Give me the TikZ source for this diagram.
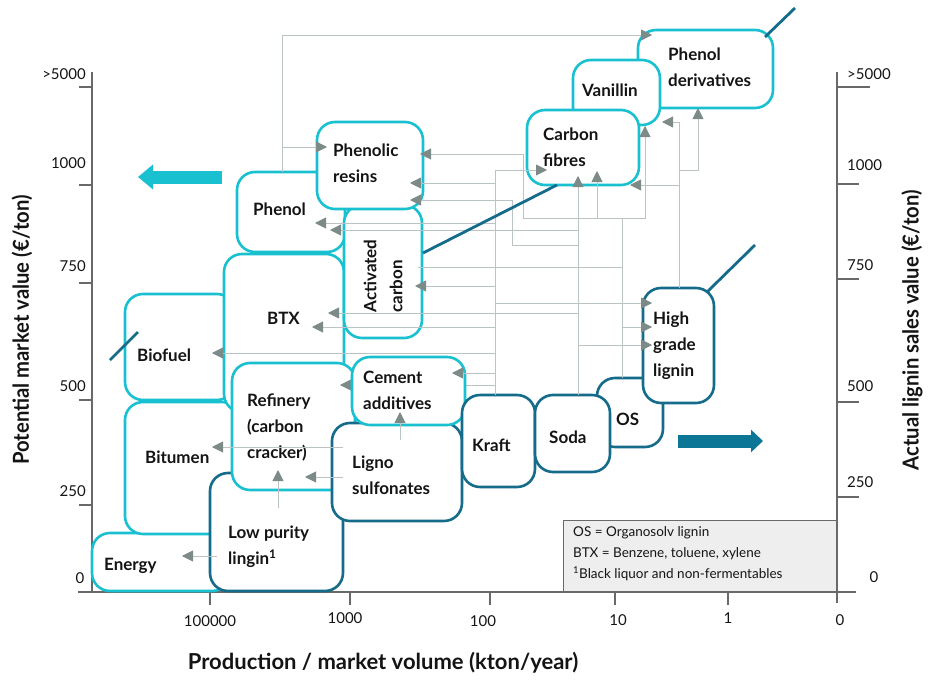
\documentclass[tikz,border=0pt]{standalone}
\usepackage{fontspec}
\setmainfont{Lato}
\newfontfamily\ttlfont{Lato}[FakeStretch=0.92]
\usetikzlibrary{arrows.meta}
\definecolor{cyanC}{RGB}{24,192,208}
\definecolor{darkC}{RGB}{20,108,138}
\definecolor{arrowD}{RGB}{12,118,150}
\definecolor{lineG}{RGB}{188,195,195}
\definecolor{tipG}{RGB}{124,138,136}
\definecolor{axisG}{RGB}{105,105,105}
\definecolor{legF}{RGB}{238,238,238}
\definecolor{txt}{RGB}{20,20,20}
\newcommand{\mybox}[6]{\node[#1,minimum width=#5pt,minimum height=#6pt] (#2) at (#3,#4) {};}
\begin{document}
\begin{tikzpicture}[x=1pt,y=-1pt,
  cbox/.style={draw=cyanC, line width=2.6pt, fill=white, rounded corners=18pt, inner sep=0pt, outer sep=0pt},
  dbox/.style={cbox, draw=darkC},
  lbl/.style={font=\bfseries\fontsize{17}{26}\selectfont, text=txt, align=left, anchor=west, inner sep=0pt},
  conn/.style={draw=lineG, line width=0.9pt},
  arr/.style={conn, -{Triangle[length=11pt,width=11pt,color=tipG]}},
  slash/.style={draw=darkC, line width=2.8pt},
  tick/.style={draw=axisG, line width=1.1pt},
  num/.style={font=\fontsize{15}{17}\selectfont, text=txt, inner sep=0pt},
  ttl/.style={font=\ttlfont\bfseries\fontsize{22}{25}\selectfont, text=txt, inner sep=0pt}]
\useasboundingbox (0,0) rectangle (932,680);
% legend
\node[draw=axisG, fill=legF, line width=0.8pt, minimum width=274pt, minimum height=71pt, inner sep=0pt, anchor=north west] (legend) at (563,520) {};
\node[font=\fontsize{13.5}{21}\selectfont, text=txt, align=left, anchor=west, inner sep=0pt] (legtxt) at (573,554)
  {OS = Organosolv lignin\\BTX = Benzene, toluene, xylene\\\textsuperscript{1}Black liquor and non-fermentables};
% axes
\draw[tick] (92,72) -- (92,592);
\draw[tick] (78,592) -- (856,592);
\draw[tick] (837,72) -- (837,603);
\foreach \y in {87,185,283,400,505} \draw[tick] (79,\y) -- (92,\y);
\draw[tick] (837,87) -- (870,87);
\foreach \y in {184,279,402,497} \draw[tick] (837,\y) -- (859,\y);
\foreach \x in {210,350,490,615,728} \draw[tick] (\x,592) -- (\x,605);
% axis numbers
\node[num, anchor=east] (l5000) at (86,74) {>5000};
\node[num, anchor=east] (l1000) at (86,163) {1000};
\node[num, anchor=east] (l750) at (86,266) {750};
\node[num, anchor=east] (l500) at (86,386) {500};
\node[num, anchor=east] (l250) at (86,491) {250};
\node[num] (l0) at (80,578) {0};
\node[num, anchor=west] (r5000) at (847,74) {>5000};
\node[num, anchor=west] (r1000) at (847,165) {1000};
\node[num, anchor=west] (r750) at (847,265) {750};
\node[num, anchor=west] (r500) at (847,386) {500};
\node[num, anchor=west] (r250) at (847,482) {250};
\node[num] (r0) at (874,577) {0};
\node[num] (b1) at (210,621) {100000};
\node[num] (b2) at (345,618) {1000};
\node[num] (b3) at (483,621) {100};
\node[num] (b4) at (618,620) {10};
\node[num] (b5) at (728,618) {1};
\node[num] (b6) at (840,620) {0};
% titles
\node[ttl, rotate=90] (ytitle) at (22,330) {Potential market value (€/ton)};
\node[ttl, rotate=90] (y2title) at (912,330) {Actual lignin sales value (€/ton)};
\node[font=\bfseries\fontsize{22}{25}\selectfont, text=txt, inner sep=0pt] (xtitle) at (383,663) {Production / market volume (kton/year)};
% big arrows
\draw[draw=cyanC, line width=13pt, -{Triangle[length=15pt,width=24pt]}] (222,177) -- (138,177);
\draw[draw=arrowD, line width=13pt, -{Triangle[length=12pt,width=22pt]}] (678,441) -- (763,441);
% boxes (back to front)
\mybox{cbox}{energy}{161}{562}{138}{58}
\mybox{cbox}{bitumen}{182.5}{468}{115}{132}
\mybox{dbox}{lowp}{276.5}{532}{133}{118}
\mybox{cbox}{biofuel}{180}{347}{110}{106}
\mybox{cbox}{btx}{284}{333}{120}{158}
\mybox{cbox}{refinery}{293.5}{426.5}{123}{127}
\draw[arr] (495,385) -- (340,385);
\mybox{dbox}{ligno}{397}{472}{130}{98}
\mybox{cbox}{cement}{408.5}{391}{113}{68}
\mybox{cbox}{phenol}{291}{212}{108}{80}
\mybox{cbox}{actc}{383}{271.5}{78}{133}
\mybox{cbox}{phres}{370}{165.5}{106}{87}
\mybox{dbox}{os}{630}{412.5}{66}{69}
\mybox{dbox}{kraft}{498.5}{441}{73}{92}
\mybox{dbox}{soda}{572.5}{433.5}{75}{77}
\mybox{dbox}{highg}{678.5}{345.5}{71}{115}
\mybox{cbox}{phder}{705.5}{69}{135}{78}
\mybox{cbox}{vanillin}{616.5}{92.5}{87}{65}
\mybox{cbox}{cfibres}{583}{147.5}{112}{75}
% labels
\node[lbl] (tEnergy) at (104,566) {Energy};
\node[lbl] (tLow) at (228,547) {Low purity\\lingin\textsuperscript{1}};
\node[lbl] (tBit) at (145,457) {Bitumen};
\node[lbl] (tRef) at (247,428) {Refinery\\(carbon\\cracker)};
\node[lbl] (tLig) at (352,475) {Ligno\\sulfonates};
\node[lbl] (tCem) at (363,390) {Cement\\additives};
\node[lbl] (tKraft) at (472,445) {Kraft};
\node[lbl] (tSoda) at (549,437) {Soda};
\node[lbl] (tOS) at (616,419) {OS};
\node[lbl] (tHigh) at (653,346) {High\\grade\\lignin};
\node[lbl] (tBTX) at (267,318) {BTX};
\node[lbl] (tBio) at (137,355) {Biofuel};
\node[lbl] (tPhenol) at (253,209) {Phenol};
\node[lbl] (tPhRes) at (333,163) {Phenolic\\resins};
\node[lbl, rotate=90, anchor=center] (tAct) at (383,276) {Activated\\carbon};
\node[lbl] (tCF) at (543,147) {Carbon\\fibres};
\node[lbl] (tVan) at (582,90) {Vanillin};
\node[lbl] (tPD) at (668,67) {Phenol\\derivatives};
% connectors: phenol
\draw[arr] (282,172) -- (282,35) -- (652,35);
\draw[arr] (282,147) -- (327,147);
% kraft trunk
\draw[arr] (495,395) -- (495,170) -- (547,170);
\draw[arr] (495,183) -- (410,183);
\draw[arr] (495,223) -- (315,223);
\draw[arr] (495,286) -- (415,286);
\draw[arr] (495,303) -- (652,303);
\draw[arr] (495,327) -- (312,327);
\draw[arr] (495,353) -- (212,353);
\draw[arr] (495,373) -- (452,373);
% soda trunk
\draw[arr] (578,395) -- (578,176);
\draw[arr] (578,245) -- (512,245) -- (512,200) -- (410,200);
\draw[arr] (578,230) -- (330,230);
\draw[arr] (578,313) -- (328,313);
\draw[arr] (578,345) -- (652,345);
% OS trunk
\draw[arr] (622,378) -- (622,218) -- (523,218) -- (523,154) -- (420,154);
\draw[arr] (622,218) -- (645,218) -- (645,126);
\draw[arr] (597,218) -- (597,171);
\draw[conn] (622,267) -- (418,267);
\draw[arr] (622,327) -- (652,327);
% high grade trunk
\draw[arr] (679,288) -- (679,122) -- (662,122);
\draw[arr] (679,170) -- (698,170) -- (698,108);
\draw[arr] (679,185) -- (630,185);
% ligno
\draw[arr] (400,440) -- (400,412);
\draw[arr] (343,447) -- (212,447);
\draw[arr] (343,477) -- (305,477);
% low purity
\draw[arr] (278,508) -- (278,470);
\draw[arr] (217,556) -- (182,556);
% slashes
\draw[slash] (110,360) -- (138,332);
\draw[slash] (cfibres.south west) ++(30,0) -- (423,253);
\draw[slash] (765,37) -- (795,8);
\draw[slash] (707,292) -- (755,245);
\end{tikzpicture}
\end{document}
